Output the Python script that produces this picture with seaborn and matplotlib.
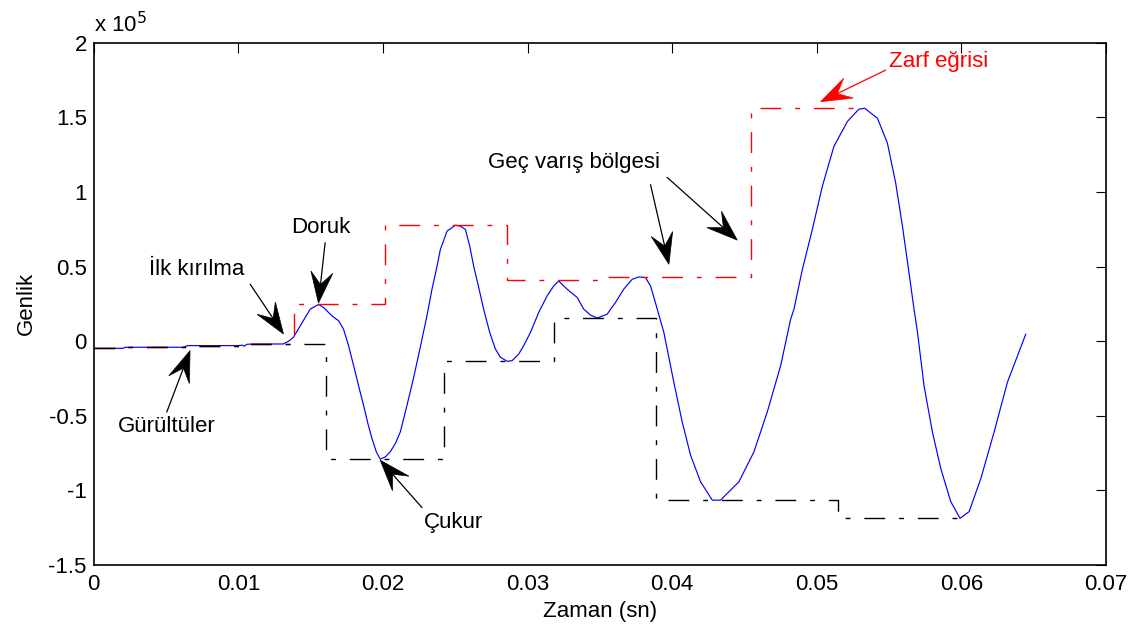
import matplotlib
matplotlib.use("Agg")
import matplotlib.pyplot as plt
import seaborn as sns
import pandas as pd
import numpy as np
from matplotlib.patches import Polygon
from matplotlib.lines import Line2D
from matplotlib.transforms import IdentityTransform

# Waveform samples: time (s) and amplitude (x 10^5)
zaman = [
    0.0000, 0.0020, 0.0022, 0.0062, 0.0065, 0.0100, 0.0103, 0.0104, 0.0106, 0.0110,
    0.0131, 0.0135, 0.01381, 0.01428, 0.01497, 0.01554, 0.01589, 0.01647, 0.01693, 0.01727,
    0.01762, 0.01797, 0.01831, 0.01866, 0.01896, 0.01924, 0.01954, 0.01981, 0.02016, 0.0205,
    0.02085, 0.0212, 0.02166, 0.0221, 0.02258, 0.02304, 0.02339, 0.02374, 0.02397, 0.02443,
    0.0250, 0.02535, 0.0257, 0.0260, 0.02627, 0.02662, 0.02696, 0.02738, 0.02777, 0.02812,
    0.02858, 0.02893, 0.02939, 0.02973, 0.0302, 0.03077, 0.03135, 0.03181, 0.03215, 0.03273,
    0.03343, 0.03388, 0.03435, 0.03481, 0.0355, 0.03608, 0.03665, 0.03723, 0.03769, 0.03815,
    0.0385, 0.0388, 0.03942, 0.04011, 0.04069, 0.04127, 0.04196, 0.04277, 0.04334, 0.04461,
    0.04565, 0.04657, 0.0475, 0.04819, 0.04842, 0.0490, 0.04969, 0.05038, 0.05118, 0.05211,
    0.05291, 0.05331, 0.05419, 0.05488, 0.05545, 0.05592, 0.05637, 0.05672, 0.05696, 0.05741,
    0.05799, 0.05857, 0.05926, 0.0599, 0.06053, 0.06134, 0.06226, 0.06318, 0.06445,
]
genlik = [
    -0.049, -0.049, -0.042, -0.042, -0.031, -0.031, -0.028, -0.035, -0.022, -0.020,
    -0.020, 0.000, 0.025, 0.102, 0.214, 0.245, 0.225, 0.169, 0.136, 0.080,
    -0.031, -0.165, -0.299, -0.432, -0.555, -0.655, -0.744, -0.793, -0.778, -0.744,
    -0.689, -0.610, -0.432, -0.254, -0.042, 0.169, 0.348, 0.503, 0.615, 0.737,
    0.777, 0.771, 0.749, 0.637, 0.503, 0.359, 0.214, 0.058, -0.053, -0.109,
    -0.136, -0.132, -0.087, -0.031, 0.058, 0.192, 0.303, 0.370, 0.403, 0.348,
    0.292, 0.214, 0.174, 0.154, 0.180, 0.259, 0.348, 0.414, 0.430, 0.426,
    0.370, 0.270, 0.058, -0.276, -0.543, -0.767, -0.945, -1.068, -1.068, -0.945,
    -0.744, -0.477, -0.165, 0.147, 0.214, 0.481, 0.749, 1.038, 1.306, 1.473,
    1.556, 1.562, 1.495, 1.328, 1.061, 0.771, 0.459, 0.214, 0.058, -0.299,
    -0.610, -0.856, -1.078, -1.190, -1.145, -0.923, -0.610, -0.276, 0.047,
]

# Upper envelope (step breakpoints)
ust_zaman = [0.0, 0.00205, 0.0063, 0.0106, 0.01386, 0.02016, 0.02858, 0.0349, 0.04547, 0.05303]
ust_genlik = [-0.049, -0.042, -0.031, -0.020, 0.248, 0.777, 0.408, 0.430, 1.566, 1.566]

# Lower envelope (step breakpoints)
alt_zaman = [0.0, 0.00205, 0.0063, 0.0106, 0.01605, 0.02424, 0.0318, 0.0389, 0.05146, 0.05995]
alt_genlik = [-0.049, -0.042, -0.031, -0.020, -0.793, -0.136, 0.154, -1.068, -1.190, -1.190]

x_ticks = [0, 0.01, 0.02, 0.03, 0.04, 0.05, 0.06, 0.07]
x_tick_labels = ["0", "0.01", "0.02", "0.03", "0.04", "0.05", "0.06", "0.07"]
y_ticks = [-1.5, -1.0, -0.5, 0.0, 0.5, 1.0, 1.5, 2.0]
y_tick_labels = ["-1.5", "-1", "-0.5", "0", "0.5", "1", "1.5", "2"]

sns.set_theme(style="white")
plt.rcParams["font.family"] = ["Liberation Sans", "DejaVu Sans"]
plt.rcParams["text.color"] = "black"
plt.rcParams["axes.labelcolor"] = "black"
plt.rcParams["xtick.color"] = "black"
plt.rcParams["ytick.color"] = "black"

fig = plt.figure(figsize=(11.43, 6.35), dpi=100)
ax = fig.add_axes([0.0820, 0.1110, 0.8857, 0.8213])

sinyal = pd.DataFrame({"t": zaman, "g": genlik})
ust = pd.DataFrame({"t": ust_zaman, "g": ust_genlik})
alt = pd.DataFrame({"t": alt_zaman, "g": alt_genlik})

dashdot = (0, (15, 10, 3.5, 10))
sns.lineplot(data=sinyal, x="t", y="g", ax=ax, color="#0000ff", linewidth=0.85,
             estimator=None, sort=False, zorder=2)
sns.lineplot(data=ust, x="t", y="g", ax=ax, color="#ff0000", linewidth=1.0,
             linestyle=dashdot, drawstyle="steps-post", estimator=None, sort=False, zorder=3)
sns.lineplot(data=alt, x="t", y="g", ax=ax, color="black", linewidth=1.0,
             linestyle=dashdot, drawstyle="steps-post", estimator=None, sort=False, zorder=3)

ax.set_xlim(0, 0.07)
ax.set_ylim(-1.5, 2.0)
ax.set_xticks(x_ticks)
ax.set_xticklabels(x_tick_labels)
ax.set_yticks(y_ticks)
ax.set_yticklabels(y_tick_labels)
ax.tick_params(direction="in", length=7, width=0.8, top=True, right=True,
               labelsize=16, colors="black", labelcolor="black")
ax.tick_params(axis="x", pad=7)
ax.tick_params(axis="y", pad=5)
for s in ax.spines.values():
    s.set_visible(True)
    s.set_color("black")
    s.set_linewidth(1.2)

ax.set_xlabel("Zaman (sn)", fontsize=16, labelpad=4, color="black")
ax.set_ylabel("Genlik", fontsize=16, labelpad=8, color="black")
ax.text(0.0, 1.012, r"x 10$^{5}$", transform=ax.transAxes, fontsize=16,
        ha="left", va="bottom", color="black")


def ok_ciz(kuyruk, uc, renk="black", boy=31.0, yari_en=11.0, cukur=0.6):
    """Thin shaft with a swept-back (notched) filled arrowhead, in pixel space."""
    p0 = ax.transData.transform(kuyruk)
    p1 = ax.transData.transform(uc)
    u = (p1 - p0) / np.hypot(*(p1 - p0))
    n = np.array([-u[1], u[0]])
    kanat1 = p1 - boy * u + yari_en * n
    kanat2 = p1 - boy * u - yari_en * n
    centik = p1 - cukur * boy * u
    ax.add_artist(Line2D([p0[0], centik[0]], [p0[1], centik[1]], color=renk,
                         lw=0.9, transform=IdentityTransform(), zorder=5))
    ax.add_artist(Polygon([p1, kanat1, centik, kanat2], closed=True, facecolor=renk,
                          edgecolor=renk, lw=0.5, transform=IdentityTransform(), zorder=5))


def isaret(metin, metin_xy, kuyruk, uc, renk="black"):
    ax.text(metin_xy[0], metin_xy[1], metin, fontsize=16, color=renk,
            ha="center", va="center", zorder=5)
    ok_ciz(kuyruk, uc, renk)


isaret("İlk kırılma", (0.00713, 0.477), (0.01082, 0.381), (0.01312, 0.047))
isaret("Gürültüler", (0.00505, -0.577), (0.00505, -0.477), (0.00666, -0.065))
isaret("Doruk", (0.01567, 0.762), (0.0160, 0.66), (0.01554, 0.255))
isaret("Çukur", (0.02489, -1.217), (0.0227, -1.118), (0.01981, -0.80))
isaret("Zarf eğrisi", (0.05845, 1.874), (0.05476, 1.818), (0.05026, 1.606), renk="#ff0000")
isaret("Geç varış bölgesi", (0.03319, 1.201), (0.0385, 1.049), (0.03977, 0.515))
ok_ciz((0.03965, 1.098), (0.0445, 0.677))

fig.savefig("out.png", dpi=100, facecolor="white")
